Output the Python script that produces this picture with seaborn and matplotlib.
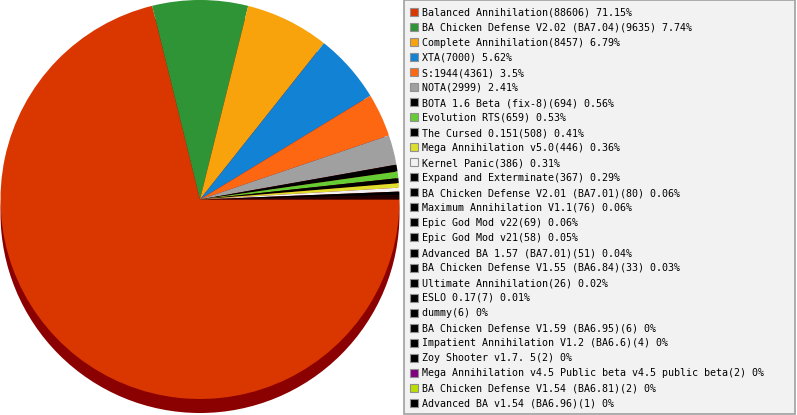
import matplotlib
matplotlib.use("Agg")
import matplotlib.pyplot as plt
from matplotlib.patches import Rectangle, Circle
import seaborn as sns

names = [
    "Balanced Annihilation", "BA Chicken Defense V2.02 (BA7.04)", "Complete Annihilation",
    "XTA", "S:1944", "NOTA", "BOTA 1.6 Beta (fix-8)", "Evolution RTS", "The Cursed 0.151",
    "Mega Annihilation v5.0", "Kernel Panic", "Expand and Exterminate",
    "BA Chicken Defense V2.01 (BA7.01)", "Maximum Annihilation V1.1", "Epic God Mod v22",
    "Epic God Mod v21", "Advanced BA 1.57 (BA7.01)", "BA Chicken Defense V1.55 (BA6.84)",
    "Ultimate Annihilation", "ESLO 0.17", "dummy", "BA Chicken Defense V1.59 (BA6.95)",
    "Impatient Annihilation V1.2 (BA6.6)", "Zoy Shooter v1.7. 5",
    "Mega Annihilation v4.5 Public beta v4.5 public beta", "BA Chicken Defense V1.54 (BA6.81)",
    "Advanced BA v1.54 (BA6.96)",
]
values = [88606, 9635, 8457, 7000, 4361, 2999, 694, 659, 508, 446, 386, 367, 80, 76, 69,
          58, 51, 33, 26, 7, 6, 6, 4, 2, 2, 2, 1]
colors = ["#DA3600", "#2E9435", "#F8A30B", "#1283D4", "#FD6712", "#A0A0A0", "#000000",
          "#66CC33", "#000000", "#DEDE2C", "#F2F2F2", "#000000", "#000000", "#000000",
          "#000000", "#000000", "#000000", "#000000", "#000000", "#000000", "#000000",
          "#000000", "#000000", "#000000", "#800080", "#BBDD00", "#000000"]
depth_color = "#8B0000"

sns.set_theme(style="white")
plt.rcParams["font.family"] = ["DejaVu Sans Mono", "DejaVu Sans"]

W, H = 797, 415
fig = plt.figure(figsize=(W / 100, H / 100), dpi=100)
ax = fig.add_axes([0, 0, 1, 1])

cx, cy, r = 200, H - 199.5, 199.5
depth = 14

# depth (side of the 3D pie)
ax.add_patch(Circle((cx, cy - depth), r, facecolor=depth_color, edgecolor="none", zorder=1))
wedges, _ = ax.pie(values, colors=colors, startangle=0, counterclock=False,
                   center=(cx, cy), radius=r, frame=True,
                   wedgeprops=dict(linewidth=0, antialiased=True))
for w in wedges:
    w.set_zorder(2)

ax.set_xlim(0, W)
ax.set_ylim(0, H)
ax.set_aspect("auto")
ax.axis("off")

# legend box
ax.add_patch(Rectangle((404.5, H - 413.5), 391, 413, facecolor="#F2F2F2",
                       edgecolor="#A0A0A0", linewidth=1.2, zorder=3))
total = sum(values)
for i, (n, v, c) in enumerate(zip(names, values, colors)):
    yc = 12 + 15 * i
    ax.add_patch(Rectangle((410.5, H - (yc + 4.5)), 8, 8, facecolor=c,
                           edgecolor="#909090", linewidth=0.8, zorder=4))
    pct = f"{round(v / total * 100, 2):g}"
    ax.text(422, H - (yc + 4), f"{n}({v}) {pct}%", fontsize=7.2, color="#000000",
            va="baseline", ha="left", zorder=5)

fig.savefig("out.png", dpi=100)
